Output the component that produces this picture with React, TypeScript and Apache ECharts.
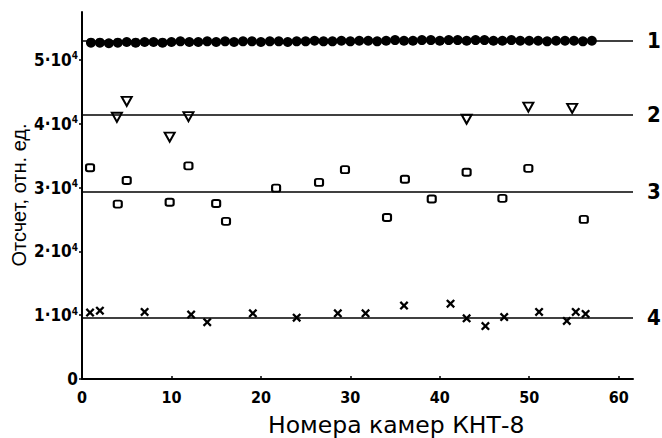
import React, { useEffect, useRef } from "react";
import * as echarts from "echarts";

// Camera numbers and counts (series 1: filled circles)
const cam1 = [1, 2, 3, 4, 5, 6, 7, 8, 9, 10, 11, 12, 13, 14, 15, 16, 17, 18, 19, 20, 21, 22, 23, 24, 25, 26, 27, 28, 29, 30, 31, 32, 33, 34, 35, 36, 37, 38, 39, 40, 41, 42, 43, 44, 45, 46, 47, 48, 49, 50, 51, 52, 53, 54, 55, 56, 57];
const val1 = [52700, 52700, 52600, 52700, 52800, 52700, 52800, 52800, 52700, 52800, 52900, 52800, 52800, 52900, 52800, 52900, 52800, 52900, 52900, 52800, 52900, 52900, 52800, 52900, 52900, 53000, 52900, 52900, 53000, 52900, 53000, 53000, 52900, 53000, 53100, 53000, 53000, 53100, 53100, 53000, 53100, 53100, 53000, 53100, 53100, 53000, 53000, 53100, 53000, 53000, 53000, 52900, 53000, 53000, 53000, 52900, 53000];

// Series 2: open down-triangles
const cam2 = [3.9, 5.0, 9.8, 11.9, 43.0, 49.9, 54.8];
const val2 = [41000, 43500, 37900, 41100, 40700, 42600, 42400];

// Series 3: open squares
const cam3 = [0.9, 4.0, 5.0, 9.8, 11.9, 15.0, 16.1, 21.7, 26.5, 29.4, 34.1, 36.1, 39.1, 43.0, 47.0, 49.9, 56.1];
const val3 = [33100, 27400, 31100, 27700, 33400, 27500, 24700, 29900, 30800, 32800, 25300, 31300, 28200, 32400, 28300, 33000, 25000];

// Series 4: crosses
const cam4 = [0.9, 2.0, 7.0, 12.2, 14.0, 19.1, 24.0, 28.6, 31.7, 36.0, 41.2, 43.0, 45.1, 47.2, 51.1, 54.2, 55.2, 56.3];
const val4 = [10400, 10700, 10500, 10100, 8900, 10300, 9600, 10300, 10300, 11500, 11800, 9500, 8300, 9700, 10500, 9100, 10500, 10200];

// Mean levels and their labels
const levels = [53000, 41400, 29300, 9600];
const levelLabels = ["1", "2", "3", "4"];

const xTicks = [0, 10, 20, 30, 40, 50, 60];
const yTicks = [0, 10000, 20000, 30000, 40000, 50000];

const xTitle = "Номера камер КНТ-8";
const yTitle = "Отсчет, отн. ед.";

const pairs = (xs: number[], ys: number[]) => xs.map((x, i) => [x, ys[i]]);

const crossPath =
  "path://M0,1.8L1.8,0L5,3.2L8.2,0L10,1.8L6.8,5L10,8.2L8.2,10L5,6.8L1.8,10L0,8.2L3.2,5Z";

const tickFont = "DejaVu Sans Condensed";

export default function App() {
  const ref = useRef<HTMLDivElement>(null);
  useEffect(() => {
    if (!ref.current) return;
    const chart = echarts.init(ref.current, null, { renderer: "svg" });
    const mk = (i: number) => ({
      symbol: "none",
      silent: true,
      lineStyle: { color: "#000", width: 1.6, type: "solid" as const, opacity: 1 },
      label: {
        show: true,
        position: "end" as const,
        distance: 14,
        formatter: levelLabels[i],
        color: "#000",
        fontSize: 22,
        fontWeight: "bold",
        fontFamily: tickFont,
      },
      data: [{ yAxis: levels[i] }],
    });
    chart.setOption({
      animation: false,
      backgroundColor: "#fff",
      grid: { left: 82, right: 29, top: 12, bottom: 59, containLabel: false },
      xAxis: {
        type: "value",
        min: 0,
        max: 61.6,
        interval: 10,
        splitLine: { show: false },
        axisLine: { show: true, onZero: false, lineStyle: { color: "#000", width: 2 } },
        axisTick: { show: true, inside: true, length: 3, customValues: xTicks, lineStyle: { color: "#000", width: 1.5 } },
        axisLabel: {
          customValues: xTicks,
          color: "#000",
          fontSize: 16,
          fontWeight: "bold",
          fontFamily: tickFont,
          margin: 10,
        },
      },
      yAxis: {
        type: "value",
        min: 0,
        max: 57500,
        interval: 10000,
        splitLine: { show: false },
        axisLine: { show: true, onZero: false, lineStyle: { color: "#000", width: 2 } },
        axisTick: { show: true, length: 3, customValues: yTicks, lineStyle: { color: "#000", width: 1.5 } },
        axisLabel: {
          customValues: yTicks,
          margin: 4,
          formatter: (v: number) => (v === 0 ? "{m|0}" : `{m|${v / 10000}·10}{s|4}`),
          rich: {
            m: { fontSize: 17, fontWeight: "bold", fontFamily: tickFont, color: "#000", lineHeight: 18 },
            s: { fontSize: 10, fontWeight: "bold", fontFamily: tickFont, color: "#000", verticalAlign: "top", lineHeight: 10 },
          },
        },
      },
      graphic: [
        {
          type: "text",
          left: 268,
          top: 413,
          style: { text: xTitle, fontSize: 23.5, fontFamily: "DejaVu Sans", fill: "#000" },
        },
        {
          type: "text",
          x: 19,
          y: 195,
          rotation: Math.PI / 2,
          style: {
            text: yTitle,
            fontSize: 20,
            fontFamily: "Liberation Sans",
            fill: "#000",
            align: "center",
            verticalAlign: "middle",
          },
        },
      ],
      series: [
        {
          type: "scatter",
          data: pairs(cam1, val1),
          symbol: "circle",
          symbolSize: 10,
          itemStyle: { color: "#000", opacity: 1 },
          markLine: mk(0),
        },
        {
          type: "scatter",
          data: pairs(cam2, val2),
          symbol: "triangle",
          symbolRotate: 180,
          symbolSize: [10, 9],
          itemStyle: { color: "#fff", borderColor: "#000", borderWidth: 2, opacity: 1 },
          markLine: mk(1),
        },
        {
          type: "scatter",
          data: pairs(cam3, val3),
          symbol: "roundRect",
          symbolSize: [8, 7],
          itemStyle: { color: "#fff", borderColor: "#000", borderWidth: 2, opacity: 1 },
          markLine: mk(2),
        },
        {
          type: "scatter",
          data: pairs(cam4, val4),
          symbol: crossPath,
          symbolSize: 9,
          itemStyle: { color: "#000", opacity: 1 },
          markLine: mk(3),
        },
      ],
    });
    return () => chart.dispose();
  }, []);
  return <div ref={ref} style={{ width: 662, height: 438, position: "absolute", left: 0, top: 0 }} />;
}
